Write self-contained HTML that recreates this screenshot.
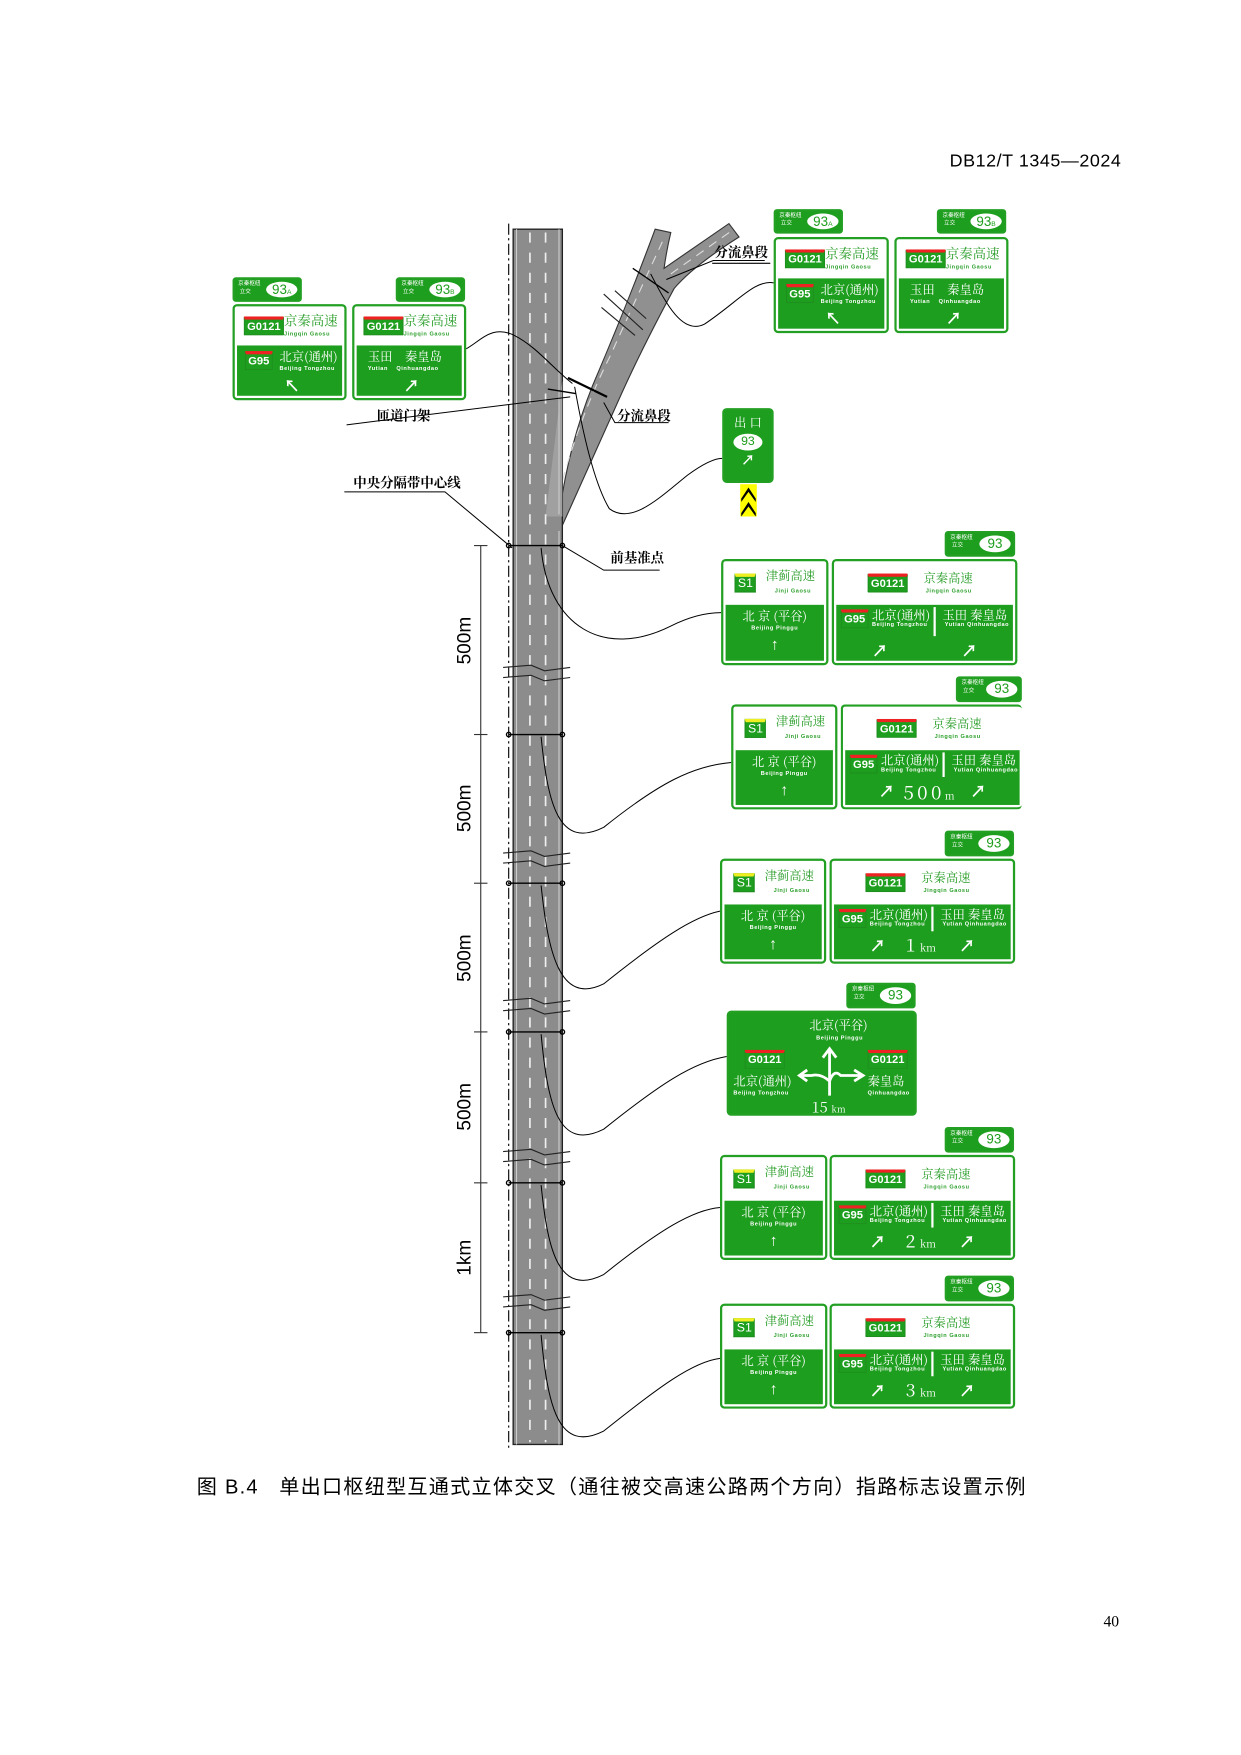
<!DOCTYPE html>
<html><head><meta charset="utf-8">
<style>
html,body{margin:0;padding:0;background:#fff;}
body{width:1241px;height:1755px;overflow:hidden;position:relative;font-family:"Liberation Sans","Noto Sans CJK SC",sans-serif;}
#w{position:absolute;left:0;top:0;width:1110px;height:1570px;transform:scale(1.118);transform-origin:0 0;}
.a{position:absolute;}
.sg{position:absolute;border:2px solid #23a023;border-radius:4px;background:#fff;box-sizing:border-box;padding:2px;overflow:hidden;}
.sg .t{position:absolute;left:2px;right:2px;top:2px;height:38%;color:#2a9e2a;text-align:center;}
.sg .b{position:absolute;left:2px;right:2px;bottom:2px;height:55%;background:#1e9e1e;color:#fff;text-align:center;}
.cn{font-family:"Noto Serif CJK SC","Noto Sans CJK SC",serif;}
.py{font-size:5px;font-weight:bold;letter-spacing:.5px;display:block;line-height:6px;}
.badge{position:absolute;border:1px solid #1e8e1e;background:#1e9e1e;color:#fff;font-size:10px;font-weight:bold;line-height:13px;padding:0 2px;border-top:3px solid #e22;border-radius:1px;}
.s1{position:absolute;border:1px solid #1e8e1e;background:#1e9e1e;color:#fff;font-size:11px;line-height:13px;padding:0 2px;border-top:3px solid #ee2;}
.tab{position:absolute;border:2px solid #23a023;border-radius:3px;background:#1e9e1e;box-sizing:border-box;}
.tab i{position:absolute;left:3px;top:1px;font-style:normal;color:#fff;font-size:5px;line-height:7px;}
.tab b{position:absolute;right:2px;top:2px;width:28px;bottom:2px;background:#fff;border-radius:50%;color:#1e9e1e;font-weight:normal;font-size:12px;line-height:15px;text-align:center;}
.ar{font-size:14px;font-weight:bold;}
.lbl{position:absolute;font-size:12px;font-weight:bold;border-bottom:1px solid #000;padding:0 2px 1px 2px;font-family:"Noto Serif CJK SC",serif;}
</style></head><body>
<div id="w">
<div class="a" style="right:107px;top:136px;font-size:16px;letter-spacing:.5px;">DB12/T 1345—2024</div>

<svg class="a" style="left:0;top:0" width="1110" height="1570" viewBox="0 0 1110 1570">
 <!-- ramp -->
 <path d="M500 462 Q508 400 530 345 Q560 275 586 205 L600 208 Q596 225 594 240 L652 200 L661 212 Q620 238 603 258 Q575 310 556 352 Q530 410 503 470 Z" fill="#909090" stroke="#333" stroke-width="1"/>
 <path d="M503 430 Q520 370 545 320 Q570 265 593 215" stroke="#ddd" stroke-width="1" stroke-dasharray="8 6" fill="none"/>
 <path d="M600 245 L655 206" stroke="#ddd" stroke-width="1" stroke-dasharray="8 6" fill="none"/>
 <!-- road -->
 <rect x="459" y="205" width="44" height="1087" fill="#8c8c8c" stroke="#222" stroke-width="1.2"/>
 <path d="M503 340 L503 462 L488 462 Z" fill="#a0a0a0"/>
 <line x1="474" y1="208" x2="474" y2="1290" stroke="#eee" stroke-width="1.5" stroke-dasharray="9 9"/>
 <line x1="488" y1="208" x2="488" y2="1290" stroke="#eee" stroke-width="1.5" stroke-dasharray="9 9"/>
 <line x1="462" y1="205" x2="462" y2="1292" stroke="#ccc" stroke-width="1"/>
 <line x1="500" y1="205" x2="500" y2="460" stroke="#ccc" stroke-width="1"/>
 <line x1="500" y1="475" x2="500" y2="1292" stroke="#ccc" stroke-width="1"/>
 <line x1="455" y1="200" x2="455" y2="1295" stroke="#000" stroke-width="1" stroke-dasharray="10 3 2 3"/>
 <!-- dimension -->
 <line x1="430" y1="488" x2="430" y2="1192" stroke="#333" stroke-width="1"/>
 <g stroke="#333" stroke-width="1">
  <line x1="424" y1="488" x2="436" y2="488"/><line x1="424" y1="657" x2="436" y2="657"/>
  <line x1="424" y1="790" x2="436" y2="790"/><line x1="424" y1="923" x2="436" y2="923"/>
  <line x1="424" y1="1058" x2="436" y2="1058"/><line x1="424" y1="1192" x2="436" y2="1192"/>
 </g>
 <g font-family="Liberation Sans,sans-serif" font-size="17" fill="#000">
  <text transform="translate(421,573) rotate(-90)" text-anchor="middle">500m</text>
  <text transform="translate(421,723) rotate(-90)" text-anchor="middle">500m</text>
  <text transform="translate(421,857) rotate(-90)" text-anchor="middle">500m</text>
  <text transform="translate(421,990) rotate(-90)" text-anchor="middle">500m</text>
  <text transform="translate(421,1125) rotate(-90)" text-anchor="middle">1km</text>
 </g>
 <!-- break marks -->
 <g stroke="#222" stroke-width="1" fill="none">
  <path d="M450 597 L475 595 L487 600 L510 597"/><path d="M450 606 L475 604 L487 609 L510 606"/>
  <path d="M450 763 L475 761 L487 766 L510 763"/><path d="M450 772 L475 770 L487 775 L510 772"/>
  <path d="M450 895 L475 893 L487 898 L510 895"/><path d="M450 904 L475 902 L487 907 L510 904"/>
  <path d="M450 1030 L475 1028 L487 1033 L510 1030"/><path d="M450 1039 L475 1037 L487 1042 L510 1039"/>
  <path d="M450 1160 L475 1158 L487 1163 L510 1160"/><path d="M450 1169 L475 1167 L487 1172 L510 1169"/>
  <path d="M540 263 L575 295 M550 260 L578 285 M538 275 L568 300"/>
 </g>
 <!-- gantries -->
 <g stroke="#000" stroke-width="1.2" fill="none">
  <line x1="455" y1="488" x2="503" y2="488"/><circle cx="455" cy="488" r="2"/><circle cx="503" cy="488" r="2"/>
  <line x1="455" y1="657" x2="503" y2="657"/><circle cx="455" cy="657" r="2"/><circle cx="503" cy="657" r="2"/>
  <line x1="455" y1="790" x2="503" y2="790"/><circle cx="455" cy="790" r="2"/><circle cx="503" cy="790" r="2"/>
  <line x1="455" y1="923" x2="503" y2="923"/><circle cx="455" cy="923" r="2"/><circle cx="503" cy="923" r="2"/>
  <line x1="455" y1="1058" x2="503" y2="1058"/><circle cx="455" cy="1058" r="2"/><circle cx="503" cy="1058" r="2"/>
  <line x1="455" y1="1192" x2="503" y2="1192"/><circle cx="455" cy="1192" r="2"/><circle cx="503" cy="1192" r="2"/>
  <line x1="508" y1="338" x2="543" y2="355" stroke-width="2"/>
  <line x1="490" y1="348" x2="515" y2="352"/>
  <line x1="566" y1="240" x2="598" y2="262"/>
 </g>
 <!-- leaders -->
 <g stroke="#000" stroke-width="0.9" fill="none">
  <path d="M484 490 C490 560 540 590 600 560 C620 550 635 548 645 548"/>
  <path d="M484 659 C490 720 500 760 540 740 C590 700 620 685 654 682"/>
  <path d="M484 792 C490 850 500 900 540 880 C590 840 620 820 644 815"/>
  <path d="M484 925 C490 990 500 1030 540 1010 C590 970 620 950 650 945"/>
  <path d="M484 1060 C490 1120 500 1160 540 1140 C590 1100 620 1082 644 1080"/>
  <path d="M484 1194 C490 1260 500 1300 540 1280 C590 1240 620 1218 644 1215"/>
  <path d="M514 346 C520 380 530 430 545 455 C565 470 590 445 615 425 C630 414 640 410 646 410"/>
  <path d="M417 312 C430 305 440 290 460 300 C480 310 495 330 512 343"/>
  <path d="M582 245 C595 270 610 300 630 290 C660 270 675 250 692 253"/>
  <path d="M310 380 L510 355"/><path d="M540 360 L550 378 L598 378"/>
  <path d="M596 250 L638 233 L684 233"/>
  <path d="M308 440 L398 440 L458 490"/>
  <path d="M503 488 L540 510 L590 510"/>
 </g>
</svg>

<div class="lbl" style="left:637px;top:217px;">分流鼻段</div>
<div class="lbl" style="left:335px;top:363px;border:none;">匝道门架</div>
<div class="lbl" style="left:550px;top:363px;border:none;">分流鼻段</div>
<div class="lbl" style="left:314px;top:423px;border:none;">中央分隔带中心线</div>
<div class="lbl" style="left:544px;top:490px;border:none;">前基准点</div>

<!-- top-left pair -->
<div class="tab" style="left:208px;top:248px;width:62px;height:22px;"><i>京秦枢纽<br>&nbsp;立交</i><b>93<small style="font-size:6px">A</small></b></div>
<div class="sg" style="left:208px;top:272px;width:102px;height:86px;">
 <div class="t"><span class="badge" style="left:6px;top:7px;">G0121</span><span class="cn" style="position:absolute;left:42px;top:2px;font-size:12px;">京秦高速</span><span class="py" style="position:absolute;left:42px;top:20px;">Jingqin Gaosu</span></div>
 <div class="b"><span class="badge" style="left:7px;top:5px;background:#1e9e1e;">G95</span><span class="cn" style="position:absolute;left:38px;top:2px;font-size:11px;">北京(通州)</span><span class="py" style="position:absolute;left:38px;top:18px;">Beijing Tongzhou</span><span class="ar" style="position:absolute;left:42px;top:26px;">↖</span></div>
</div>
<div class="tab" style="left:354px;top:248px;width:62px;height:22px;"><i>京秦枢纽<br>&nbsp;立交</i><b>93<small style="font-size:6px">B</small></b></div>
<div class="sg" style="left:315px;top:272px;width:102px;height:86px;">
 <div class="t"><span class="badge" style="left:6px;top:7px;">G0121</span><span class="cn" style="position:absolute;left:42px;top:2px;font-size:12px;">京秦高速</span><span class="py" style="position:absolute;left:42px;top:20px;">Jingqin Gaosu</span></div>
 <div class="b"><span class="cn" style="position:absolute;left:10px;top:2px;font-size:11px;">玉田&nbsp;&nbsp;&nbsp;&nbsp;秦皇岛</span><span class="py" style="position:absolute;left:10px;top:18px;">Yutian&nbsp;&nbsp;&nbsp;&nbsp;Qinhuangdao</span><span class="ar" style="position:absolute;left:42px;top:26px;">↗</span></div>
</div>

<!-- top-right pair -->
<div class="tab" style="left:692px;top:187px;width:62px;height:22px;"><i>京秦枢纽<br>&nbsp;立交</i><b>93<small style="font-size:6px">A</small></b></div>
<div class="sg" style="left:692px;top:212px;width:103px;height:86px;">
 <div class="t"><span class="badge" style="left:6px;top:7px;">G0121</span><span class="cn" style="position:absolute;left:42px;top:2px;font-size:12px;">京秦高速</span><span class="py" style="position:absolute;left:42px;top:20px;">Jingqin Gaosu</span></div>
 <div class="b"><span class="badge" style="left:7px;top:5px;">G95</span><span class="cn" style="position:absolute;left:38px;top:2px;font-size:11px;">北京(通州)</span><span class="py" style="position:absolute;left:38px;top:18px;">Beijing Tongzhou</span><span class="ar" style="position:absolute;left:42px;top:26px;">↖</span></div>
</div>
<div class="tab" style="left:838px;top:187px;width:62px;height:22px;"><i>京秦枢纽<br>&nbsp;立交</i><b>93<small style="font-size:6px">B</small></b></div>
<div class="sg" style="left:800px;top:212px;width:102px;height:86px;">
 <div class="t"><span class="badge" style="left:6px;top:7px;">G0121</span><span class="cn" style="position:absolute;left:42px;top:2px;font-size:12px;">京秦高速</span><span class="py" style="position:absolute;left:42px;top:20px;">Jingqin Gaosu</span></div>
 <div class="b"><span class="cn" style="position:absolute;left:10px;top:2px;font-size:11px;">玉田&nbsp;&nbsp;&nbsp;&nbsp;秦皇岛</span><span class="py" style="position:absolute;left:10px;top:18px;">Yutian&nbsp;&nbsp;&nbsp;&nbsp;Qinhuangdao</span><span class="ar" style="position:absolute;left:42px;top:26px;">↗</span></div>
</div>

<!-- exit sign -->
<div class="a" style="left:646px;top:365px;width:46px;height:67px;background:#1e9e1e;border:2px solid #23a023;border-radius:4px;box-sizing:border-box;color:#fff;text-align:center;">
 <div class="cn" style="font-size:11px;margin-top:3px;">出 口</div>
 <div style="margin:2px auto 0;width:26px;height:15px;background:#fff;border-radius:50%;color:#1e9e1e;font-size:11px;line-height:15px;">93</div>
 <div class="ar" style="font-size:12px;">↗</div>
</div>
<svg class="a" style="left:662px;top:433px" width="15" height="29"><rect width="15" height="29" fill="#ff0"/><path d="M1 13 L7.5 3 L14 13 L14 16 L7.5 7 L1 16Z M1 26 L7.5 16 L14 26 L14 29 L7.5 20 L1 29Z" fill="#000"/></svg>

<!-- r1 -->
<div class="tab" style="left:845px;top:475px;width:63px;height:23px;"><i>京秦枢纽<br>&nbsp;立交</i><b>93</b></div>
<div class="sg" style="left:645px;top:500px;width:96px;height:95px;">
 <div class="t"><span class="s1" style="left:8px;top:9px;">S1</span><span class="cn" style="position:absolute;left:36px;top:3px;font-size:11px;">津蓟高速</span><span class="py" style="position:absolute;left:44px;top:22px;">Jinji Gaosu</span></div>
 <div class="b"><span class="cn" style="display:block;font-size:11px;margin-top:2px;">北 京 (平谷)</span><span class="py">Beijing Pinggu</span><span class="ar" style="display:block;margin-top:3px;">↑</span></div>
</div>
<div class="sg" style="left:744px;top:500px;width:166px;height:95px;">
 <div class="t"><span class="badge" style="left:28px;top:9px;">G0121</span><span class="cn" style="position:absolute;left:78px;top:5px;font-size:11px;">京秦高速</span><span class="py" style="position:absolute;left:80px;top:22px;">Jingqin Gaosu</span></div>
 <div class="b"><span class="badge" style="left:4px;top:4px;">G95</span><span class="cn" style="position:absolute;left:32px;top:1px;font-size:11px;">北京(通州)</span><span class="py" style="position:absolute;left:32px;top:15px;">Beijing Tongzhou</span><span class="a" style="left:87px;top:2px;width:2px;height:26px;background:#fff;"></span><span class="cn" style="position:absolute;left:95px;top:1px;font-size:11px;">玉田 秦皇岛</span><span class="py" style="position:absolute;left:97px;top:15px;">Yutian Qinhuangdao</span><span class="ar" style="position:absolute;left:32px;top:31px;">↗</span><span class="ar" style="position:absolute;left:112px;top:31px;">↗</span></div>
</div>

<!-- r2 -->
<div class="tab" style="left:855px;top:605px;width:59px;height:23px;"><i>京秦枢纽<br>&nbsp;立交</i><b>93</b></div>
<div class="sg" style="left:654px;top:630px;width:95px;height:94px;">
 <div class="t"><span class="s1" style="left:8px;top:9px;">S1</span><span class="cn" style="position:absolute;left:36px;top:3px;font-size:11px;">津蓟高速</span><span class="py" style="position:absolute;left:44px;top:22px;">Jinji Gaosu</span></div>
 <div class="b"><span class="cn" style="display:block;font-size:11px;margin-top:2px;">北 京 (平谷)</span><span class="py">Beijing Pinggu</span><span class="ar" style="display:block;margin-top:3px;">↑</span></div>
</div>
<div class="sg" style="left:752px;top:630px;width:162px;height:94px;border-right:none;">
 <div class="t"><span class="badge" style="left:28px;top:9px;">G0121</span><span class="cn" style="position:absolute;left:78px;top:5px;font-size:11px;">京秦高速</span><span class="py" style="position:absolute;left:80px;top:22px;">Jingqin Gaosu</span></div>
 <div class="b"><span class="badge" style="left:4px;top:4px;">G95</span><span class="cn" style="position:absolute;left:32px;top:1px;font-size:11px;">北京(通州)</span><span class="py" style="position:absolute;left:32px;top:15px;">Beijing Tongzhou</span><span class="a" style="left:87px;top:2px;width:2px;height:22px;background:#fff;"></span><span class="cn" style="position:absolute;left:95px;top:1px;font-size:11px;">玉田 秦皇岛</span><span class="py" style="position:absolute;left:97px;top:15px;">Yutian Qinhuangdao</span><span class="ar" style="position:absolute;left:30px;top:27px;">↗</span><span class="cn" style="position:absolute;left:52px;top:24px;font-size:17px;letter-spacing:3px;">500<small style="font-size:9px">m</small></span><span class="ar" style="position:absolute;left:112px;top:27px;">↗</span></div>
</div>

<!-- r3 -->
<div class="tab" style="left:845px;top:743px;width:62px;height:23px;"><i>京秦枢纽<br>&nbsp;立交</i><b>93</b></div>
<div class="sg" style="left:644px;top:768px;width:95px;height:94px;">
 <div class="t"><span class="s1" style="left:8px;top:9px;">S1</span><span class="cn" style="position:absolute;left:36px;top:3px;font-size:11px;">津蓟高速</span><span class="py" style="position:absolute;left:44px;top:22px;">Jinji Gaosu</span></div>
 <div class="b"><span class="cn" style="display:block;font-size:11px;margin-top:2px;">北 京 (平谷)</span><span class="py">Beijing Pinggu</span><span class="ar" style="display:block;margin-top:3px;">↑</span></div>
</div>
<div class="sg" style="left:742px;top:768px;width:166px;height:94px;">
 <div class="t"><span class="badge" style="left:28px;top:9px;">G0121</span><span class="cn" style="position:absolute;left:78px;top:5px;font-size:11px;">京秦高速</span><span class="py" style="position:absolute;left:80px;top:22px;">Jingqin Gaosu</span></div>
 <div class="b"><span class="badge" style="left:4px;top:4px;">G95</span><span class="cn" style="position:absolute;left:32px;top:1px;font-size:11px;">北京(通州)</span><span class="py" style="position:absolute;left:32px;top:15px;">Beijing Tongzhou</span><span class="a" style="left:87px;top:2px;width:2px;height:22px;background:#fff;"></span><span class="cn" style="position:absolute;left:95px;top:1px;font-size:11px;">玉田 秦皇岛</span><span class="py" style="position:absolute;left:97px;top:15px;">Yutian Qinhuangdao</span><span class="ar" style="position:absolute;left:32px;top:27px;">↗</span><span class="cn" style="position:absolute;left:64px;top:24px;font-size:16px;">1 <small style="font-size:9px">km</small></span><span class="ar" style="position:absolute;left:112px;top:27px;">↗</span></div>
</div>

<!-- r4 diagram -->
<div class="tab" style="left:757px;top:879px;width:62px;height:23px;"><i>京秦枢纽<br>&nbsp;立交</i><b>93</b></div>
<div class="a" style="left:650px;top:904px;width:170px;height:94px;background:#1e9e1e;border:2px solid #23a023;border-radius:4px;box-sizing:border-box;color:#fff;">
 <span class="cn" style="position:absolute;left:72px;top:3px;font-size:11px;">北京(平谷)</span><span class="py" style="position:absolute;left:78px;top:20px;">Beijing Pinggu</span>
 <span class="badge" style="left:14px;top:33px;">G0121</span><span class="badge" style="left:124px;top:33px;">G0121</span>
 <span class="cn" style="position:absolute;left:4px;top:53px;font-size:11px;">北京(通州)</span><span class="py" style="position:absolute;left:4px;top:69px;">Beijing Tongzhou</span>
 <span class="cn" style="position:absolute;left:124px;top:53px;font-size:11px;">秦皇岛</span><span class="py" style="position:absolute;left:124px;top:69px;">Qinhuangdao</span>
 <svg class="a" style="left:60px;top:26px" width="64" height="50"><g stroke="#fff" stroke-width="2.5" fill="none"><path d="M30 48 L30 8 M24 14 L30 6 L36 14"/><path d="M30 35 Q22 28 14 30 L4 30 M10 25 L3 30 L10 35"/><path d="M30 35 Q34 24 40 30 L58 30 M52 25 L60 30 L52 35"/></g></svg>
 <span class="cn" style="position:absolute;left:74px;top:74px;font-size:13px;">15 <small style="font-size:8px">km</small></span>
</div>

<!-- r5 -->
<div class="tab" style="left:845px;top:1008px;width:62px;height:23px;"><i>京秦枢纽<br>&nbsp;立交</i><b>93</b></div>
<div class="sg" style="left:644px;top:1033px;width:96px;height:94px;">
 <div class="t"><span class="s1" style="left:8px;top:9px;">S1</span><span class="cn" style="position:absolute;left:36px;top:3px;font-size:11px;">津蓟高速</span><span class="py" style="position:absolute;left:44px;top:22px;">Jinji Gaosu</span></div>
 <div class="b"><span class="cn" style="display:block;font-size:11px;margin-top:2px;">北 京 (平谷)</span><span class="py">Beijing Pinggu</span><span class="ar" style="display:block;margin-top:3px;">↑</span></div>
</div>
<div class="sg" style="left:742px;top:1033px;width:166px;height:94px;">
 <div class="t"><span class="badge" style="left:28px;top:9px;">G0121</span><span class="cn" style="position:absolute;left:78px;top:5px;font-size:11px;">京秦高速</span><span class="py" style="position:absolute;left:80px;top:22px;">Jingqin Gaosu</span></div>
 <div class="b"><span class="badge" style="left:4px;top:4px;">G95</span><span class="cn" style="position:absolute;left:32px;top:1px;font-size:11px;">北京(通州)</span><span class="py" style="position:absolute;left:32px;top:15px;">Beijing Tongzhou</span><span class="a" style="left:87px;top:2px;width:2px;height:22px;background:#fff;"></span><span class="cn" style="position:absolute;left:95px;top:1px;font-size:11px;">玉田 秦皇岛</span><span class="py" style="position:absolute;left:97px;top:15px;">Yutian Qinhuangdao</span><span class="ar" style="position:absolute;left:32px;top:27px;">↗</span><span class="cn" style="position:absolute;left:64px;top:24px;font-size:16px;">2 <small style="font-size:9px">km</small></span><span class="ar" style="position:absolute;left:112px;top:27px;">↗</span></div>
</div>

<!-- r6 -->
<div class="tab" style="left:845px;top:1141px;width:62px;height:23px;"><i>京秦枢纽<br>&nbsp;立交</i><b>93</b></div>
<div class="sg" style="left:644px;top:1166px;width:96px;height:94px;">
 <div class="t"><span class="s1" style="left:8px;top:9px;">S1</span><span class="cn" style="position:absolute;left:36px;top:3px;font-size:11px;">津蓟高速</span><span class="py" style="position:absolute;left:44px;top:22px;">Jinji Gaosu</span></div>
 <div class="b"><span class="cn" style="display:block;font-size:11px;margin-top:2px;">北 京 (平谷)</span><span class="py">Beijing Pinggu</span><span class="ar" style="display:block;margin-top:3px;">↑</span></div>
</div>
<div class="sg" style="left:742px;top:1166px;width:166px;height:94px;">
 <div class="t"><span class="badge" style="left:28px;top:9px;">G0121</span><span class="cn" style="position:absolute;left:78px;top:5px;font-size:11px;">京秦高速</span><span class="py" style="position:absolute;left:80px;top:22px;">Jingqin Gaosu</span></div>
 <div class="b"><span class="badge" style="left:4px;top:4px;">G95</span><span class="cn" style="position:absolute;left:32px;top:1px;font-size:11px;">北京(通州)</span><span class="py" style="position:absolute;left:32px;top:15px;">Beijing Tongzhou</span><span class="a" style="left:87px;top:2px;width:2px;height:22px;background:#fff;"></span><span class="cn" style="position:absolute;left:95px;top:1px;font-size:11px;">玉田 秦皇岛</span><span class="py" style="position:absolute;left:97px;top:15px;">Yutian Qinhuangdao</span><span class="ar" style="position:absolute;left:32px;top:27px;">↗</span><span class="cn" style="position:absolute;left:64px;top:24px;font-size:16px;">3 <small style="font-size:9px">km</small></span><span class="ar" style="position:absolute;left:112px;top:27px;">↗</span></div>
</div>

<div class="a" style="left:176px;top:1316px;font-size:18px;letter-spacing:1.1px;font-family:'Liberation Sans','Noto Sans CJK SC',sans-serif;white-space:nowrap;">图 B.4&nbsp;&nbsp;&nbsp;单出口枢纽型互通式立体交叉（通往被交高速公路两个方向）指路标志设置示例</div>
<div class="a" style="left:987px;top:1444px;font-size:14px;font-family:'Liberation Serif',serif;">40</div>
</div>
</body></html>
